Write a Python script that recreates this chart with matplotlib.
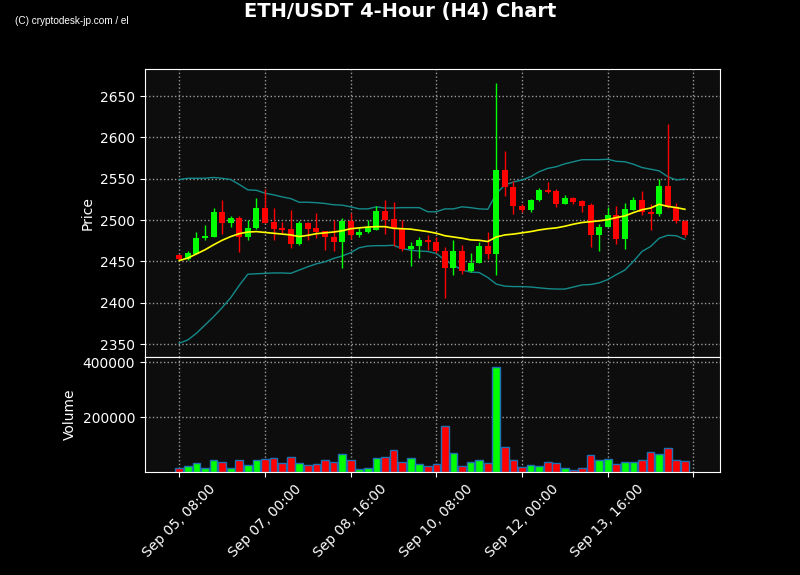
import matplotlib
matplotlib.use("Agg")
import matplotlib.pyplot as plt
import pandas as pd

# 4-hour candles, first one at Sep 05 08:00
dates = pd.date_range("2024-09-05 08:00", periods=60, freq="4h")

opens = [2458, 2453, 2459.5, 2478, 2480, 2510, 2497, 2503, 2480, 2490,
         2515, 2498, 2490.5, 2489, 2470.5, 2497, 2490.5, 2486.5, 2479.5, 2474,
         2499, 2482.5, 2485, 2488.5, 2511, 2501.5, 2490, 2465.5, 2468, 2476,
         2474, 2463, 2442, 2463, 2438, 2448, 2468, 2458.5, 2560.5, 2540,
         2517, 2512.5, 2524, 2536.5, 2535.5, 2520, 2527, 2522.5, 2518.5, 2481.5,
         2491.5, 2506.5, 2476.5, 2512.5, 2524.5, 2510, 2507.5, 2541.5, 2515.5, 2499]
highs = [2459, 2463, 2486, 2494, 2514.5, 2524, 2505, 2505, 2500, 2526.5,
         2538, 2514.5, 2497.5, 2512, 2499, 2497.5, 2508.5, 2487, 2500, 2502,
         2508.5, 2490, 2500, 2517, 2524, 2522, 2500, 2474, 2479, 2482,
         2480, 2467, 2476, 2470, 2460, 2474, 2485, 2666, 2584, 2547.5,
         2519, 2526, 2539, 2546, 2537, 2530, 2528, 2524, 2520.5, 2495.5,
         2515.5, 2517, 2520.5, 2528, 2535, 2519, 2549.5, 2616, 2520.5, 2499.5]
lows = [2452, 2452, 2459, 2475.5, 2479, 2483.5, 2492, 2461, 2475.5, 2489,
        2497, 2476, 2484.5, 2466, 2470, 2476, 2478, 2464, 2463, 2442.5,
        2477, 2479.5, 2484.5, 2488, 2483.5, 2468, 2463, 2444, 2454, 2463.5,
        2460, 2406, 2434, 2435, 2437.5, 2447.5, 2453, 2433.5, 2529, 2507,
        2509.5, 2510, 2523.5, 2532.5, 2515.5, 2519.5, 2519.5, 2509.5, 2467, 2462.5,
        2491, 2471, 2465, 2512, 2506.5, 2488.5, 2505, 2514.5, 2496.5, 2480]
closes = [2453, 2460.5, 2478.5, 2481, 2510, 2497, 2503, 2480, 2490.5, 2515,
          2497, 2489.5, 2488.5, 2470.5, 2497, 2489.5, 2486, 2479, 2474, 2499,
          2482.5, 2486, 2490, 2511, 2500.5, 2490, 2465.5, 2469, 2476, 2473,
          2462, 2442, 2463, 2438, 2448.5, 2468, 2458.5, 2560.5, 2539.5, 2516.5,
          2512.5, 2524.5, 2536.5, 2534.5, 2520, 2527, 2521.5, 2517.5, 2481.5, 2491.5,
          2506.5, 2476.5, 2513.5, 2524.5, 2509.5, 2507.5, 2541.5, 2515.5, 2498.5, 2481.5]
volumes = [14500, 21800, 32700, 17000, 43600, 36400, 17000, 43600, 25500, 43600,
           47300, 50900, 32700, 54500, 32700, 25500, 29100, 43600, 36400, 65400,
           43600, 13300, 17000, 50900, 54500, 80000, 36400, 50900, 29100, 21800,
           29100, 168500, 69100, 21800, 36400, 43600, 32700, 381800, 90900, 43600,
           18200, 25500, 21800, 36400, 32700, 14500, 9700, 14500, 61800, 43600,
           47300, 29100, 36400, 36400, 43600, 72700, 65400, 87300, 43600, 40000]

# Bollinger bands (middle / upper / lower)
bb_mid = [2451, 2454, 2459, 2464, 2470, 2475.5, 2480, 2483.5, 2485.5, 2486,
          2485, 2484, 2483, 2482, 2480, 2481.5, 2483.5, 2484.5, 2485.5, 2487,
          2489.5, 2490.5, 2491.5, 2492, 2492, 2490, 2489.5, 2489, 2487.5, 2486,
          2484, 2481, 2479.5, 2478, 2476, 2475.5, 2474, 2479.5, 2482, 2483,
          2484.5, 2486, 2488, 2489.5, 2490.5, 2492.5, 2495, 2497, 2498, 2499,
          2500.5, 2503, 2505, 2509, 2512.5, 2514.5, 2519, 2516.5, 2515, 2513]
bb_upper = [2549, 2550.5, 2550.5, 2550.5, 2551.5, 2550.5, 2549, 2543, 2536.5, 2536,
            2532.5, 2530.5, 2528, 2526, 2521.5, 2521.5, 2521, 2520, 2518.5, 2518,
            2516, 2513.5, 2513.5, 2516, 2514.5, 2514.5, 2515, 2515, 2515, 2510,
            2510, 2513.5, 2513.5, 2516, 2515, 2513.5, 2513, 2532, 2542.5, 2546,
            2548.5, 2552.5, 2558.5, 2562.5, 2564.5, 2568, 2570.5, 2573, 2573, 2573,
            2573.5, 2571, 2570.5, 2567.5, 2563.5, 2561.5, 2559.5, 2552.5, 2548.5, 2549.5]
bb_lower = [2351, 2355, 2363, 2373, 2383, 2394, 2406, 2421, 2434.5, 2435,
            2435.5, 2436, 2436, 2435.5, 2439.5, 2443.5, 2447, 2449.5, 2453.5, 2456.5,
            2460.5, 2466.5, 2468.5, 2469, 2469, 2469.5, 2465.5, 2463.5, 2462.5, 2462,
            2459.5, 2451.5, 2445.5, 2439.5, 2437, 2436.5, 2430.5, 2422.5, 2420, 2419.5,
            2419.5, 2419, 2418, 2417, 2416.5, 2416.5, 2419, 2421.5, 2422, 2424,
            2428, 2434, 2439.5, 2450, 2462, 2468, 2478, 2481.5, 2481, 2476.5]

up_color = "#00ff00"
down_color = "#ff0000"

fig = plt.figure(figsize=(8, 5.75), dpi=100, facecolor="black")
ax = fig.add_axes([0.18125, 0.3791, 0.71875, 0.5009])
axv = fig.add_axes([0.18125, 0.1786, 0.71875, 0.2005], sharex=ax)

x = list(range(len(dates)))
colors = [up_color if c >= o else down_color for o, c in zip(opens, closes)]

# candles
for i in x:
    ax.vlines(i, lows[i], highs[i], color=colors[i], linewidth=1, zorder=3)
bottoms = [min(o, c) for o, c in zip(opens, closes)]
heights = [max(abs(c - o), 0.8) for o, c in zip(opens, closes)]
ax.bar(x, heights, bottom=bottoms, width=0.7, color=colors, zorder=4)

ax.plot(x, bb_upper, color="#148a8a", linewidth=1, zorder=2)
ax.plot(x, bb_lower, color="#148a8a", linewidth=1, zorder=2)
ax.plot(x, bb_mid, color="yellow", linewidth=1.2, zorder=5)

axv.bar(x, volumes, width=0.9, color=colors, edgecolor="#1f6fb4", linewidth=1)

for a in (ax, axv):
    a.set_facecolor("#0d0d0d")
    a.grid(True, color="#9a9a9a", linestyle=":", linewidth=1)
    a.set_axisbelow(True)
    for s in a.spines.values():
        s.set_color("white")
    a.tick_params(colors="white", labelsize=10)

ax.set_xlim(-4, 63.1)
ax.set_ylim(2334.3, 2682.7)
ax.set_yticks([2350, 2400, 2450, 2500, 2550, 2600, 2650])
ax.set_ylabel("Price", color="white", fontsize=10)
ax.tick_params(axis="x", labelbottom=False)

axv.set_ylim(0, 419000)
axv.set_yticks([200000, 400000])
axv.set_ylabel("Volume", color="white", fontsize=10)

tick_pos = list(range(0, 61, 10))
tick_lbl = [dates[i].strftime("%b %d, %H:%M") if i < len(dates) else "" for i in tick_pos]
axv.set_xticks(tick_pos)
axv.set_xticklabels(tick_lbl, rotation=45)

fig.text(0.5, 0.98, "ETH/USDT 4-Hour (H4) Chart", color="white", fontsize=14,
         fontweight="bold", ha="center", va="center")
fig.text(0.019, 0.963, "(C) cryptodesk-jp.com / el", color="white", fontsize=7.2,
         family="Liberation Sans", ha="left", va="center")

fig.savefig("out.png", dpi=100, facecolor="black")
